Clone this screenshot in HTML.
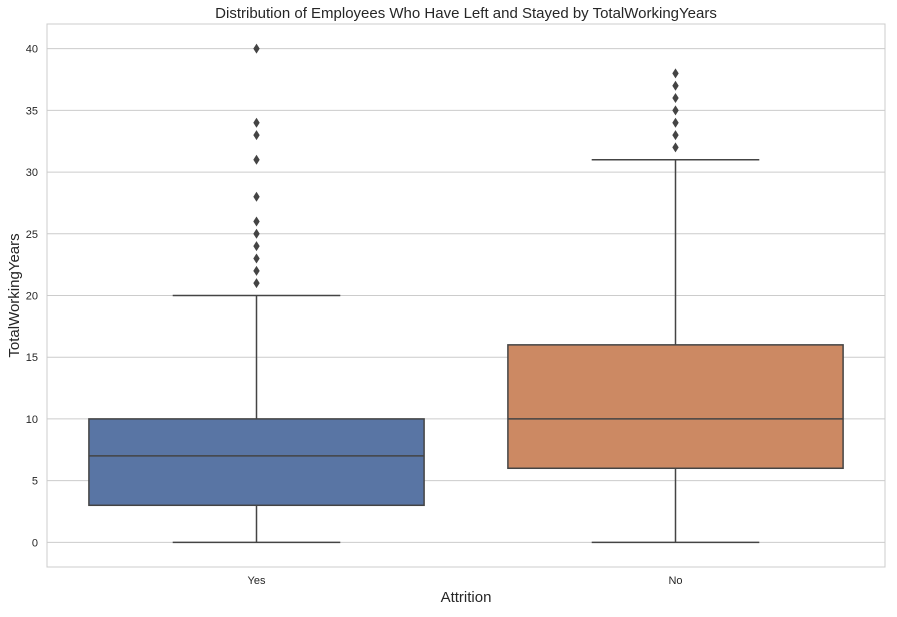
<!DOCTYPE html>
<html><head><meta charset="utf-8"><style>
body{margin:0;background:#fff;font-family:"Liberation Sans",sans-serif;}
</style></head><body>
<svg id="chart" width="897" height="612" xmlns="http://www.w3.org/2000/svg"></svg>
<script>
const categories = ["Yes", "No"];
const colors = ["#5975a4", "#cc8963"];
const q1s = [3, 6];
const medians = [7, 10];
const q3s = [10, 16];
const whiskLow = [0, 0];
const whiskHigh = [20, 31];
const outliersYes = [21, 22, 23, 24, 25, 26, 28, 31, 33, 34, 40];
const outliersNo = [32, 33, 34, 35, 36, 37, 38];
const yTicks = [0, 5, 10, 15, 20, 25, 30, 35, 40];

const svg = document.getElementById('chart');
const NS = 'http://www.w3.org/2000/svg';
const L = 47, R = 885, T = 24, B = 567;
const yMin = -2, yMax = 42;
function y(v){ return B - (v - yMin) / (yMax - yMin) * (B - T); }
const band = (R - L) / categories.length;
function x(i){ return L + band * (i + 0.5); }
function mk(tag, attrs, parent){
  const e = document.createElementNS(NS, tag);
  for (const k in attrs) e.setAttribute(k, attrs[k]);
  (parent || svg).appendChild(e);
  return e;
}
// plot frame background
const frame = mk('rect', {x:L, y:T, width:R-L, height:B-T, fill:'#fff', stroke:'#cccccc', 'stroke-width':1});


// gridlines and ticks
yTicks.forEach(t => {
  const g = mk('line', {x1:L, x2:R, y1:y(t), y2:y(t), stroke:'#cccccc', 'stroke-width':1});
  
  
  const tx = mk('text', {x:L-9, y:y(t)+4, 'text-anchor':'end', 'font-size':11, fill:'#262626'});
  tx.textContent = t;
  
  
});
const lc = '#444444';
categories.forEach((c, i) => {
  const cx = x(i), hw = band * 0.4;
  const g = mk('g', {});
  
  
  mk('line', {x1:cx, x2:cx, y1:y(q1s[i]), y2:y(whiskLow[i]), stroke:lc, 'stroke-width':1.5}, g);
  mk('line', {x1:cx, x2:cx, y1:y(q3s[i]), y2:y(whiskHigh[i]), stroke:lc, 'stroke-width':1.5}, g);
  mk('line', {x1:cx-hw/2, x2:cx+hw/2, y1:y(whiskLow[i]), y2:y(whiskLow[i]), stroke:lc, 'stroke-width':1.5}, g);
  mk('line', {x1:cx-hw/2, x2:cx+hw/2, y1:y(whiskHigh[i]), y2:y(whiskHigh[i]), stroke:lc, 'stroke-width':1.5}, g);
  mk('rect', {x:cx-hw, y:y(q3s[i]), width:2*hw, height:y(q1s[i])-y(q3s[i]), fill:colors[i], stroke:lc, 'stroke-width':1.5}, g);
  mk('line', {x1:cx-hw, x2:cx+hw, y1:y(medians[i]), y2:y(medians[i]), stroke:lc, 'stroke-width':1.5}, g);
  const outs = i === 0 ? outliersYes : outliersNo;
  outs.forEach(o => {
    const yy = y(o);
    const d = mk('path', {d:`M${cx} ${yy-5} L${cx+3.2} ${yy} L${cx} ${yy+5} L${cx-3.2} ${yy} Z`, fill:'#444444'}, g);
    
    
  });
  const tx = mk('text', {x:cx, y:B+17, 'text-anchor':'middle', 'font-size':11, fill:'#262626'});
  tx.textContent = c;
  
  
});
const title = mk('text', {x:(L+R)/2, y:18, 'text-anchor':'middle', 'font-size':15, fill:'#262626'});
title.textContent = 'Distribution of Employees Who Have Left and Stayed by TotalWorkingYears';


const xl = mk('text', {x:(L+R)/2, y:602, 'text-anchor':'middle', 'font-size':15, fill:'#262626'});
xl.textContent = 'Attrition';


const yl = mk('text', {x:0, y:0, 'text-anchor':'middle', 'font-size':15, fill:'#262626', transform:`translate(19,${(T+B)/2}) rotate(-90)`});
yl.textContent = 'TotalWorkingYears';


</script>
</body></html>
